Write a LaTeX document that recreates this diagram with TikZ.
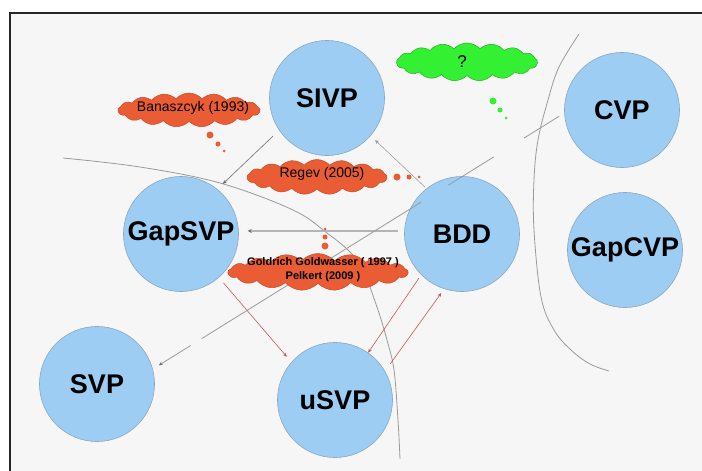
\documentclass[tikz,border=0pt]{standalone}
\usepackage{fontspec}
\setmainfont{Liberation Sans}
\usetikzlibrary{shapes.symbols,arrows.meta}
\definecolor{bgc}{HTML}{F6F6F6}
\definecolor{circfill}{HTML}{9DCDF3}
\definecolor{circedge}{HTML}{8AA8C4}
\definecolor{orng}{HTML}{EA5D34}
\definecolor{orngedge}{HTML}{C84A28}
\definecolor{grn}{HTML}{33F033}
\definecolor{grnedge}{HTML}{22B022}
\definecolor{redl}{HTML}{C8575A}
\definecolor{sepc}{HTML}{9A9A9A}
\definecolor{darkg}{HTML}{6E6E6E}
\definecolor{lightg}{HTML}{B4B4B4}
\begin{document}
\begin{tikzpicture}[x=1pt,y=-1pt,
  prob/.style={circle,minimum size=115pt,inner sep=0pt,fill=circfill,draw=circedge,line width=0.6pt,font=\bfseries\fontsize{27}{27}\selectfont},
  cloudbox/.style={cloud,cloud puffs=17,cloud puff arc=95,cloud ignores aspect,inner sep=0pt,line width=0.5pt},
  redcloud/.style={cloudbox,fill=orng,draw=orngedge},
  cloudtext/.style={inner sep=0pt,align=center},
  tip/.style={-{Stealth[length=4pt,width=3.5pt]}},
  sepline/.style={sepc,line width=0.8pt},
  grayarrow/.style={darkg,line width=0.6pt,tip},
  redarrow/.style={redl,line width=0.6pt,tip}
]
\useasboundingbox (0,0) rectangle (702,471);
\fill[white] (0,0) rectangle (702,471);
\fill[bgc] (10,13) rectangle (702,471);
\draw[black!85,line width=1.2pt] (10,471) -- (10,13) -- (702,13);

% separator curves
\draw[sepline] plot[smooth,tension=0.6] coordinates {(63,158) (140,167) (220,183) (293,210) (327,233) (350,252) (363,270) (377,307) (387,340) (394,370) (398,420) (400,459)};
\draw[sepline] plot[smooth,tension=0.6] coordinates {(579,34) (559,67) (548,100) (538,140) (534,180) (534,230) (541,297) (554,330) (571,350) (590,364) (609,371)};

% problems
\node[prob] (SIVP) at (327,98) {SIVP};
\node[prob] (CVP) at (622,110) {CVP};
\node[prob] (GapSVP) at (181,234) {GapSVP};
\node[prob] (BDD) at (462,234) {BDD};
\node[prob] (GapCVP) at (625,250) {GapCVP};
\node[prob] (SVP) at (97,384) {SVP};
\node[prob] (uSVP) at (335,400) {uSVP};

% connectors
\draw[grayarrow,shorten <=8.5pt,shorten >=7.5pt] (SIVP.214) -- (GapSVP.51);
\draw[grayarrow,lightg!70!darkg,shorten <=2pt,shorten >=6pt] (BDD.128) -- (SIVP.319);
\draw[lightg,line width=1.6pt,shorten <=6pt,shorten >=9pt,-{Stealth[length=4pt,width=4pt,color=darkg]}] (BDD.177) -- (GapSVP.3);
\draw[sepc,line width=0.8pt,shorten <=6pt,shorten >=7pt,dash pattern=on 41.5pt off 35.6pt on 53.4pt off 32pt on 258.5pt off 13pt on 80pt,-{Stealth[length=4pt,width=3.5pt,color=darkg]}] (CVP.183) -- (SVP.15);
\draw[redarrow,shorten <=7pt,shorten >=7pt] (GapSVP.311) -- (uSVP.139);
\draw[redarrow,shorten <=4pt,shorten >=0pt] (BDD.225) -- (uSVP.55);
\draw[redarrow,shorten <=9pt,shorten >=5pt] (uSVP.30) -- (BDD.252);

% clouds
\node[redcloud,minimum width=142pt,minimum height=34pt] (ban) at (189,110) {};
\node[cloudtext,font=\fontsize{14}{16}\selectfont] (bant) at (193,108) {Banaszcyk (1993)};
\fill[orng] (210,135) circle (3.5pt) (218,144) circle (2.5pt) (224,151) circle (1.5pt);

\node[redcloud,minimum width=140pt,minimum height=35pt] (reg) at (317,177) {};
\node[cloudtext,font=\fontsize{14}{16}\selectfont] (regt) at (322,174) {Regev (2005)};
\fill[orng] (397,177) circle (3.5pt) (409,177) circle (2.5pt) (419,177) circle (1.5pt);

\node[cloudbox,fill=grn,draw=grnedge,minimum width=141pt,minimum height=38pt] (q) at (467,62) {};
\node[cloudtext,font=\fontsize{17}{18}\selectfont] (qt) at (462,62) {?};
\fill[grn] (493,101) circle (3.5pt) (500,110) circle (2.5pt) (506,118) circle (1.5pt);

\node[redcloud,minimum width=180pt,minimum height=37pt] (gold) at (318,272) {};
\node[cloudtext,font=\bfseries\fontsize{11}{14}\selectfont] (goldt) at (323,270) {Goldrich Goldwasser ( 1997 )\\Pelkert (2009 )};
\fill[orng] (325,229) circle (1.5pt) (325,237) circle (2.5pt) (325,246) circle (3.5pt);
\end{tikzpicture}
\end{document}
